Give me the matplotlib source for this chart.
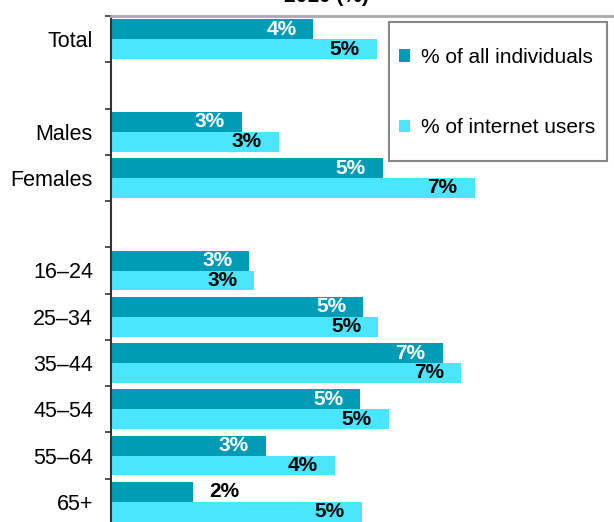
import numpy as np
import matplotlib
matplotlib.use("Agg")
import matplotlib.pyplot as plt
from matplotlib.patches import Patch, Rectangle

plt.rcParams["font.family"] = ["Liberation Sans", "DejaVu Sans"]

# "" rows are spacers between the groups
categories = ["Total", "", "Males", "Females", "",
              "16–24", "25–34", "35–44", "45–54", "55–64", "65+"]
all_individuals = [3.99, np.nan, 2.58, 5.36, np.nan, 2.73, 4.98, 6.54, 4.92, 3.05, 1.61]
internet_users = [5.24, np.nan, 3.31, 7.17, np.nan, 2.83, 5.27, 6.90, 5.48, 4.42, 4.95]
series_names = ["% of all individuals", "% of internet users"]
title = "2010 (%)"

dark = "#009BB5"
light = "#4BE5FF"

W, H = 614, 522
fig = plt.figure(figsize=(W / 100, H / 100), dpi=100)
ax = fig.add_axes([111 / W, -3 / H, 507 / W, 509 / H])

y = np.arange(len(categories))
h = 0.43
ax.barh(y - h / 2, all_individuals, height=h, color=dark, edgecolor="none")
ax.barh(y + h / 2, internet_users, height=h, color=light, edgecolor="none")

ax.set_xlim(0, 10)
ax.set_ylim(len(categories) - 0.5, -0.5)

inset = 17 / 50.7
for i, (a, b) in enumerate(zip(all_individuals, internet_users)):
    if np.isnan(a):
        continue
    if a > 1.8:
        ax.text(a - inset, i - h / 2, f"{a:.0f}%", ha="right", va="center",
                color="white", fontsize=15, fontweight="bold")
    else:
        ax.text(a + inset, i - h / 2, f"{a:.0f}%", ha="left", va="center",
                color="black", fontsize=15, fontweight="bold")
    ax.text(b - inset, i + h / 2, f"{b:.0f}%", ha="right", va="center",
            color="black", fontsize=15, fontweight="bold")

ax.set_yticks(y)
ax.set_yticklabels(categories, fontsize=15.5)
ax.set_yticks(np.arange(len(categories) + 1) - 0.5, minor=True)
ax.tick_params(axis="y", which="major", length=0, pad=13)
ax.tick_params(axis="y", which="minor", length=4.3, width=1.2, color="#333333", direction="out")
ax.set_xticks([])

for s in ["right", "bottom"]:
    ax.spines[s].set_visible(False)
ax.spines["left"].set_color("#333333")
ax.spines["left"].set_linewidth(1.5)
ax.spines["top"].set_color("#AAAAAA")
ax.spines["top"].set_linewidth(2)

# title sits mostly above the visible area, as in the original crop
fig.text(326 / W, 1 - 2 / H, title, ha="center", va="baseline",
         fontsize=15, fontweight="bold")

# legend box drawn separately so its padding can match the original
fig.patches.append(Rectangle((389 / W, 1 - 161 / H), (606.7 - 389) / W, 139 / H,
                             transform=fig.transFigure, facecolor="white",
                             edgecolor="#888888", linewidth=1.5, zorder=5))
handles = [Patch(facecolor=dark, edgecolor="none"), Patch(facecolor=light, edgecolor="none")]
fig.legend(handles, series_names, loc="upper left",
           bbox_to_anchor=(399 / W, 1 - 48 / H), frameon=False, fontsize=15,
           handlelength=0.53, handleheight=0.53, handletextpad=0.53,
           labelspacing=2.45, borderpad=0, borderaxespad=0).set_zorder(6)

fig.savefig("out.png", dpi=100)
